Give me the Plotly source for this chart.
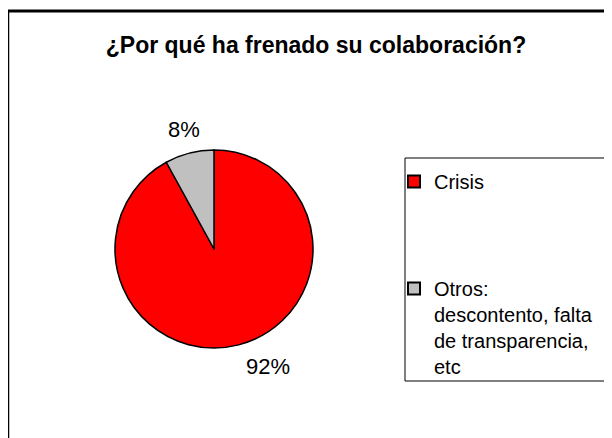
import plotly.graph_objects as go

W, H = 612, 438

title_text = "¿Por qué ha frenado su colaboración?"
categories = ["Crisis", "Otros: descontento, falta de transparencia, etc"]
legend_labels = ["Crisis<br>\u00a0<br>\u00a0<br>\u00a0",
                 "Otros:<br>descontento, falta<br>de transparencia,<br>etc"]
values = [92, 8]
colors = ["#FF0000", "#C0C0C0"]

# The page body has an 8px margin: convert page pixel positions to paper coords
OFF = 8

def px_x(x):
    return (x - OFF) / W

def px_y(y):
    return 1 - (y - OFF) / H

total = sum(values)
pct_text = [f"{round(100 * v / total)}%" for v in values]

fig = go.Figure()
fig.add_trace(go.Pie(
    labels=legend_labels,
    values=values,
    customdata=categories,
    sort=False,
    direction="clockwise",
    rotation=0,
    marker=dict(colors=colors, line=dict(color="black", width=1.5)),
    textposition="none",
    domain=dict(x=[px_x(115), px_x(313)], y=[px_y(348), px_y(150)]),
    automargin=False,
    showlegend=True,
    hoverinfo="label+percent",
))

label_font = dict(family="Liberation Sans, Arial", size=22, color="black")
label_pos = [(268, 366), (184, 130)]
annotations = [
    dict(text=t, x=px_x(p[0]), y=px_y(p[1]), xref="paper", yref="paper",
         xanchor="center", yanchor="middle", showarrow=False, font=label_font)
    for t, p in zip(pct_text, label_pos)
]

fig.update_layout(
    width=W, height=H,
    margin=dict(l=0, r=0, t=0, b=0),
    paper_bgcolor="white",
    plot_bgcolor="white",
    font=dict(family="Liberation Sans, Arial", color="black"),
    title=dict(text="<b>" + title_text + "</b>", x=px_x(316), y=px_y(45),
               xanchor="center", yanchor="middle",
               font=dict(family="Liberation Sans, Arial", size=23, color="black")),
    legend=dict(x=px_x(394), y=px_y(162), xanchor="left", yanchor="top",
                font=dict(family="Liberation Sans, Arial", size=20, color="black"),
                valign="top", bgcolor="rgba(0,0,0,0)", borderwidth=0,
                itemsizing="constant", tracegroupgap=0),
    annotations=annotations,
    shapes=[
        dict(type="line", xref="paper", yref="paper",
             x0=0, y0=px_y(11), x1=1.0, y1=px_y(11),
             line=dict(color="black", width=3), layer="above"),
        dict(type="line", xref="paper", yref="paper",
             x0=px_x(8), y0=px_y(10), x1=px_x(8), y1=-0.1,
             line=dict(color="black", width=2.5), layer="above"),
        dict(type="rect", xref="paper", yref="paper",
             x0=px_x(405), y0=px_y(158), x1=1.1, y1=px_y(381),
             line=dict(color="black", width=1), fillcolor="white", layer="below"),
    ],
)

fig.write_html("out.html")
